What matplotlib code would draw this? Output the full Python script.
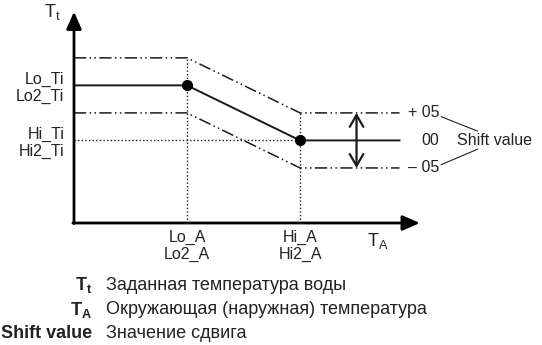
import matplotlib
matplotlib.use("Agg")
import matplotlib.pyplot as plt

plt.rcParams['font.family'] = ['Liberation Sans', 'DejaVu Sans']
plt.rcParams['mathtext.fontset'] = 'custom'
plt.rcParams['mathtext.rm'] = 'Liberation Sans'
plt.rcParams['mathtext.bf'] = 'Liberation Sans:bold'

# ---- data (schematic units) ----
ta_ticks = [1.0, 2.0]
ta_labels = ["Lo_A\nLo2_A", "Hi_A\nHi2_A"]
tt_ticks = [1.5, 2.5]
tt_labels = ["Hi_Ti\nHi2_Ti", "Lo_Ti\nLo2_Ti"]
curve_x = [0.0, 1.0, 2.0, 2.88]
curve_y = [2.5, 2.5, 1.5, 1.5]
shift = 0.5
shift_labels = ["+ 05", "00", "\u2013 05"]
legend_keys = [r"$\mathbf{T_t}$", r"$\mathbf{T_A}$", "Shift value"]
legend_texts = ["Заданная температура воды",
                "Окружающая (наружная) температура",
                "Значение сдвига"]

W, H = 542, 345
fig = plt.figure(figsize=(W / 100, H / 100), dpi=100)
ax_left, ax_bottom = 74, 223
ax = fig.add_axes([ax_left / W, (H - ax_bottom) / H, 356 / W, 218 / H])
ax.set_xlim(0, 3.15)
ax.set_ylim(0, 3.96)
for s in ax.spines.values():
    s.set_visible(False)

fs = 11.5
ax.set_xticks(ta_ticks)
ax.set_xticklabels(ta_labels, fontsize=fs, color='#222222', linespacing=1.15)
ax.set_yticks(tt_ticks)
ax.set_yticklabels(tt_labels, fontsize=fs, color='#222222', linespacing=1.15)
ax.tick_params(axis='both', length=0)
ax.tick_params(axis='y', pad=7)
ax.tick_params(axis='x', pad=5)

# axes arrows
arrow_kw = dict(arrowstyle='-|>,head_length=0.8,head_width=0.35', lw=2.0,
                color='black', shrinkA=0, shrinkB=0, mutation_scale=13)
ax.annotate('', xy=(0, 3.84), xytext=(0, -0.01), arrowprops=arrow_kw, annotation_clip=False)
ax.annotate('', xy=(3.06, 0), xytext=(-0.01, 0), arrowprops=arrow_kw, annotation_clip=False)

dashdot = (0, (8, 2.2, 1, 2.2, 1, 2.2))
dotted = (0, (1, 1.6))
lw = 1.1
ax.plot(curve_x, curve_y, color='#1a1a1a', lw=1.4, solid_joinstyle='miter', clip_on=False)
ax.plot(curve_x, [v + shift for v in curve_y], color='#1a1a1a', lw=lw, linestyle=dashdot, clip_on=False)
ax.plot(curve_x, [v - shift for v in curve_y], color='#1a1a1a', lw=lw, linestyle=dashdot, clip_on=False)

# dotted guides
ax.plot([curve_x[1], curve_x[1]], [0, curve_y[1] + shift], color='#1a1a1a', lw=1.0, linestyle=dotted)
ax.plot([curve_x[2], curve_x[2]], [0, curve_y[2] + shift], color='#1a1a1a', lw=1.0, linestyle=dotted)
ax.plot([0, curve_x[2]], [curve_y[2], curve_y[2]], color='#1a1a1a', lw=1.0, linestyle=dotted)

# breakpoints
ax.plot(curve_x[1:3], curve_y[1:3], 'o', color='black', markersize=7, zorder=5, clip_on=False)

# shift double arrow
ax.annotate('', xy=(2.5, curve_y[3] + shift), xytext=(2.5, curve_y[3] - shift),
            arrowprops=dict(arrowstyle='<->,head_length=0.6,head_width=0.35', lw=1.6,
                            color='#1a1a1a', shrinkA=0, shrinkB=0, mutation_scale=14),
            annotation_clip=False)

# shift labels
for lab, dy in zip(shift_labels, [shift, 0, -shift]):
    ax.text(3.23, curve_y[3] + dy, lab, ha='right', va='center', fontsize=fs,
            color='#222222', clip_on=False)
ax.text(3.39, curve_y[3], "Shift value", ha='left', va='center', fontsize=fs,
        color='#222222', clip_on=False)
ax.plot([3.25, 3.57], [1.93, 1.67], color='#222222', lw=0.8, clip_on=False)
ax.plot([3.25, 3.57], [1.06, 1.34], color='#222222', lw=0.8, clip_on=False)

# axis names
ax.text(-0.19, 3.84, r"$\mathregular{T_t}$", ha='center', va='center', fontsize=13,
        color='#222222', clip_on=False)
ax.text(2.69, -0.32, r"$\mathregular{T_A}$", ha='center', va='center', fontsize=13,
        color='#222222', clip_on=False)

# legend below
ys = [285, 310, 333]
for key, txt, yp in zip(legend_keys, legend_texts, ys):
    fig.text(92 / W, 1 - yp / H, key, ha='right', va='center', fontsize=13,
             fontweight='bold', color='#222222')
    fig.text(106 / W, 1 - yp / H, txt, ha='left', va='center', fontsize=13,
             color='#222222')

fig.savefig('out.png', dpi=100)
